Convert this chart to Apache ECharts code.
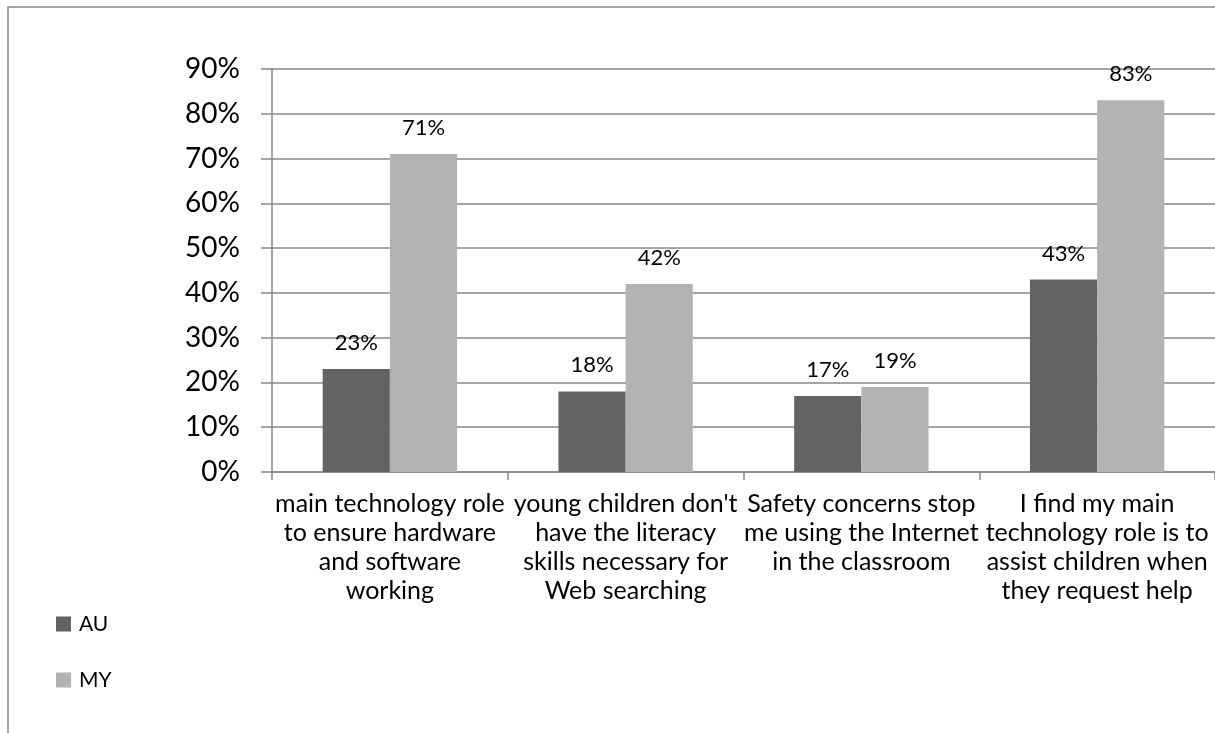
<!DOCTYPE html>
<html>
<head>
<meta charset="utf-8">
<script src="https://cdn.jsdelivr.net/npm/echarts@6/dist/echarts.min.js"></script>
<style>
html,body{margin:0;padding:0;background:#fff;}
#c{width:1215px;height:733px;}
</style>
</head>
<body>
<div id="c"></div>
<script>
const categories = [
  "main technology role\nto ensure hardware\nand software\nworking",
  "young children don't\nhave the literacy\nskills necessary for\nWeb searching",
  "Safety concerns stop\nme using the Internet\nin the classroom",
  "I find my main\ntechnology role is to\nassist children when\nthey request help"
];
const seriesNames = ["AU", "MY"];
const auValues = [0.23, 0.18, 0.17, 0.43];
const myValues = [0.71, 0.42, 0.19, 0.83];
const yMin = 0, yMax = 0.9, yInterval = 0.1;

const FONT = "Lato";
const chart = echarts.init(document.getElementById('c'), null, {renderer: 'canvas'});
const pct = v => Math.round(v * 100) + '%';
const labelStyle = {
  show: true, position: 'top', distance: 15,
  fontFamily: FONT, fontSize: 22, color: '#000',
  formatter: p => pct(p.value)
};
chart.setOption({
  animation: false,
  backgroundColor: '#fff',
  textStyle: {fontFamily: FONT},
  graphic: [{
    type: 'rect', x: 0, y: 0, silent: true,
    shape: {x: 8, y: 7, width: 1400, height: 900},
    style: {fill: 'none', stroke: '#878787', lineWidth: 1.5}
  }],
  grid: {left: 272, top: 69, width: 946, height: 403, containLabel: false},
  legend: {
    orient: 'vertical', left: 51, top: 608,
    itemWidth: 15, itemHeight: 15, itemGap: 34,
    icon: 'rect',
    textStyle: {fontFamily: FONT, fontSize: 21, color: '#000', lineHeight: 22, padding: [0, 0, 0, 3]},
    data: seriesNames
  },
  xAxis: {
    type: 'category', data: categories,
    axisLine: {show: true, lineStyle: {color: '#878787', width: 1.5}},
    axisTick: {show: true, length: 8, alignWithLabel: false, lineStyle: {color: '#878787', width: 1.5}},
    axisLabel: {interval: 0, margin: 17, fontFamily: FONT, fontSize: 25, lineHeight: 29, color: '#000', align: 'center'},
    splitLine: {show: false}
  },
  yAxis: {
    type: 'value', min: yMin, max: yMax, interval: yInterval,
    axisLine: {show: true, lineStyle: {color: '#878787', width: 1.5}},
    axisTick: {show: true, length: 11, inside: false, lineStyle: {color: '#878787', width: 1.5}},
    axisLabel: {margin: 32, fontFamily: FONT, fontSize: 28, color: '#000', formatter: v => pct(v)},
    splitLine: {show: true, lineStyle: {color: '#878787', width: 1.5}}
  },
  series: [
    {name: seriesNames[0], type: 'bar', data: auValues, barGap: '0%', barCategoryGap: '43%',
     itemStyle: {color: '#636363'}, label: labelStyle},
    {name: seriesNames[1], type: 'bar', data: myValues, barGap: '0%', barCategoryGap: '43%',
     itemStyle: {color: '#b3b3b3'}, label: labelStyle}
  ]
});
</script>
</body>
</html>
